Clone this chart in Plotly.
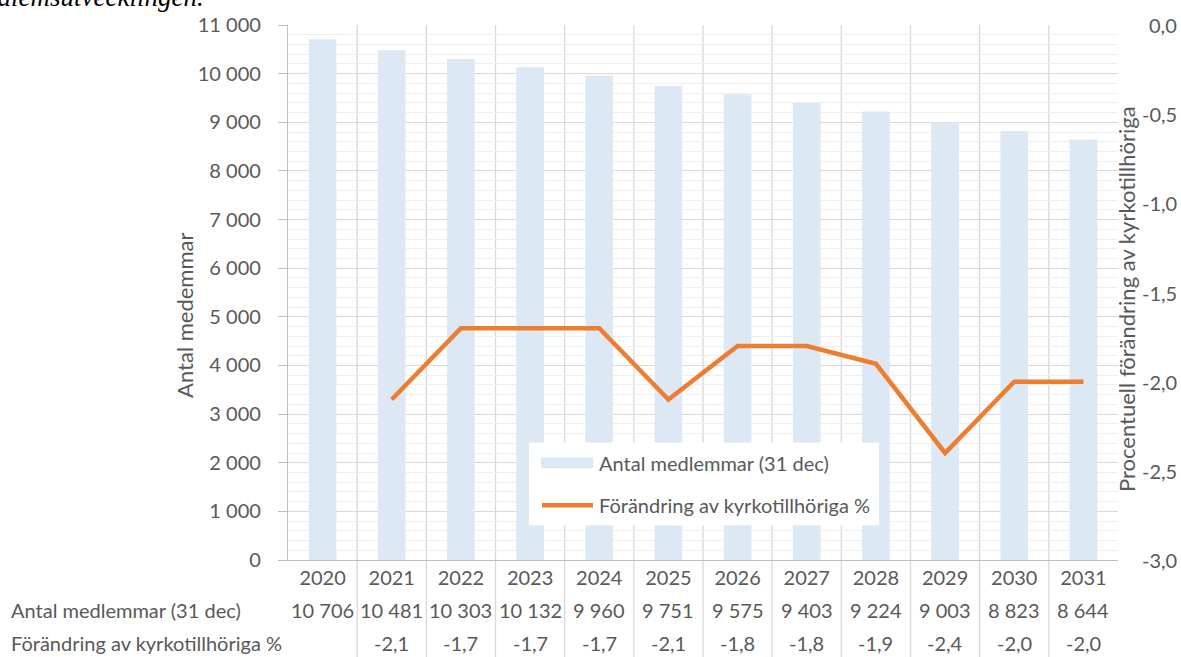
import plotly.graph_objects as go

# --- data -------------------------------------------------------------
years = ["2020", "2021", "2022", "2023", "2024", "2025",
         "2026", "2027", "2028", "2029", "2030", "2031"]
members = [10706, 10481, 10303, 10132, 9960, 9751,
           9575, 9403, 9224, 9003, 8823, 8644]
change_pct = [None, -2.1, -1.7, -1.7, -1.7, -2.1,
              -1.8, -1.8, -1.9, -2.4, -2.0, -2.0]
right_ticks = [0.0, -0.5, -1.0, -1.5, -2.0, -2.5, -3.0]

bar_name = "Antal medlemmar (31 dec)"
line_name = "Förändring av kyrkotillhöriga %"

# --- geometry (pixels) ------------------------------------------------
W, H = 1181, 657
L, R, T, B = 288, 1118, 23, 560
FONT = "Lato"
GREY = "#595959"
FS = 20


def px(xp):
    return (xp - L) / (R - L)


def py(yp):
    return (B - yp) / (B - T)


def fmt_int(v):
    return f"{v:,}".replace(",", " ")


def fmt_dec(v):
    return f"{v:.1f}".replace(".", ",")


fig = go.Figure()
fig.add_trace(go.Bar(
    x=years, y=members, name=bar_name,
    marker=dict(color="#DDE8F5", line=dict(width=0)),
    width=0.4, yaxis="y",
))
fig.add_trace(go.Scatter(
    x=years, y=change_pct, name=line_name, mode="lines",
    line=dict(color="#ED7D31", width=4.5),
    yaxis="y2", connectgaps=False,
))

shapes = []
# column separators running through the plot and the data table
for k in range(1, len(years)):
    shapes.append(dict(type="line", xref="paper", yref="paper",
                       x0=k / len(years), x1=k / len(years),
                       y0=py(H + 2), y1=1,
                       line=dict(color="#D9D9D9", width=1.3),
                       layer="below"))

# legend box
shapes.append(dict(type="rect", xref="paper", yref="paper",
                   x0=px(529), x1=px(879), y0=py(525), y1=py(442),
                   fillcolor="white", line=dict(width=0), layer="above"))
shapes.append(dict(type="rect", xref="paper", yref="paper",
                   x0=px(541), x1=px(593), y0=py(468), y1=py(457),
                   fillcolor="#DDE8F5", line=dict(width=0), layer="above"))
shapes.append(dict(type="line", xref="paper", yref="paper",
                   x0=px(542), x1=px(593), y0=py(505), y1=py(505),
                   line=dict(color="#ED7D31", width=4.5), layer="above"))

ann = []
txt_font = dict(family=FONT, size=FS, color=GREY)
title_font = dict(family=FONT, size=22, color=GREY)
# data table rows
ann.append(dict(text=bar_name, xref="paper", yref="paper", x=px(9), y=py(610),
                xanchor="left", yanchor="middle", showarrow=False, font=txt_font))
ann.append(dict(text=line_name, xref="paper", yref="paper", x=px(9), y=py(643),
                xanchor="left", yanchor="middle", showarrow=False, font=txt_font))
for i, (m, c) in enumerate(zip(members, change_pct)):
    ann.append(dict(text=fmt_int(m), xref="x", yref="paper", x=i, y=py(610),
                    xanchor="center", yanchor="middle", showarrow=False,
                    font=txt_font))
    if c is not None:
        ann.append(dict(text=fmt_dec(c), xref="x", yref="paper", x=i, y=py(643),
                        xanchor="center", yanchor="middle", showarrow=False,
                        font=txt_font))

# right axis tick labels (right aligned)
for v in right_ticks:
    ann.append(dict(text=fmt_dec(v), xref="paper", yref="y2", x=px(1179), y=v,
                    xanchor="right", yanchor="middle", showarrow=False,
                    font=txt_font))

# axis titles
ann.append(dict(text="Antal medemmar", xref="paper", yref="paper",
                x=px(185), y=py(315), textangle=-90, showarrow=False,
                xanchor="center", yanchor="middle", font=title_font))
ann.append(dict(text="Procentuell förändring av kyrkotillhöriga", xref="paper",
                yref="paper", x=px(1127), y=py(298), textangle=-90,
                showarrow=False, xanchor="center", yanchor="middle",
                font=title_font))

# legend texts
ann.append(dict(text=bar_name, xref="paper", yref="paper", x=px(597), y=py(463),
                xanchor="left", yanchor="middle", showarrow=False, font=txt_font))
ann.append(dict(text=line_name, xref="paper", yref="paper", x=px(597), y=py(505),
                xanchor="left", yanchor="middle", showarrow=False, font=txt_font))

# caption of the preceding paragraph, cut by the page top
ann.append(dict(text="<i>medlemsutvecklingen.</i>", xref="paper", yref="paper",
                x=px(205), y=py(11), xanchor="right", yanchor="bottom",
                showarrow=False, borderpad=0,
                font=dict(family="Liberation Serif", size=27, color="#000000")))

fig.update_layout(
    width=W, height=H,
    margin=dict(l=L, r=W - R, t=T, b=H - B, pad=0),
    paper_bgcolor="white", plot_bgcolor="white",
    separators=", ",
    showlegend=False,
    font=dict(family=FONT, size=FS, color=GREY),
    xaxis=dict(
        type="category", range=[-0.5, len(years) - 0.5],
        showgrid=False, showline=True, linecolor="#BFBFBF", linewidth=1.3,
        ticks="", tickfont=txt_font,
        ticklabelstandoff=0, zeroline=False,
    ),
    yaxis=dict(
        range=[0, 11000], dtick=1000, tickformat=",d",
        showgrid=True, gridcolor="#D9D9D9", gridwidth=1.3,
        minor=dict(dtick=200, showgrid=True, gridcolor="#EFEFEF", gridwidth=1),
        showline=True, linecolor="#BFBFBF", linewidth=1.3,
        ticks="outside", ticklen=9, tickcolor="#BFBFBF", tickwidth=1.3,
        tickfont=txt_font,
        ticklabelstandoff=13, zeroline=False,
    ),
    yaxis2=dict(
        overlaying="y", side="right", range=[-3, 0], dtick=0.5,
        showgrid=False, showline=False, ticks="", showticklabels=False,
        zeroline=False,
    ),
    shapes=shapes,
    annotations=ann,
)

fig.write_html("out.html")
